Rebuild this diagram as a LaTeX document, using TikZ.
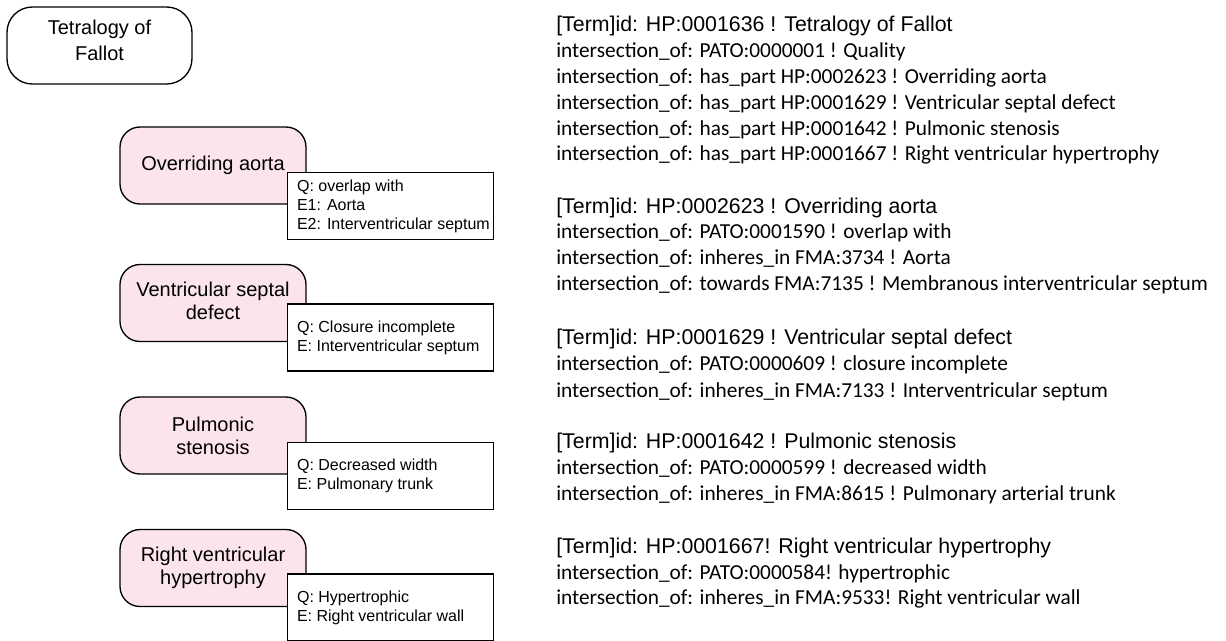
\documentclass[tikz,border=0pt]{standalone}
\usepackage{fontspec}
\setmainfont{Liberation Sans}
\newfontfamily\fejfont{Liberation Sans}
\newfontfamily\sorfont{Carlito}
\usetikzlibrary{positioning}
\definecolor{rozsa}{RGB}{252,228,236}
\tikzset{
  fo/.style={draw,rounded corners=19pt,line width=1pt,minimum width=138.75pt,
    minimum height=57.75pt,align=center,font=\fontsize{15}{19.5}\selectfont},
  resz/.style={fo,fill=rozsa,rounded corners=15pt,minimum width=139.5pt,
    font=\fontsize{15}{17.25}\selectfont},
  cimke/.style={draw,fill=white,line width=1.1pt,text width=152pt,inner xsep=1.25pt,
    minimum height=50.25pt,align=flush left,font=\fontsize{12}{14.25}\selectfont,
    execute at begin node={\leftskip=6pt}},
  fej/.style={anchor=base west,inner sep=0pt,font=\fejfont\fontsize{16}{19}\selectfont},
  sor/.style={anchor=base west,inner sep=0pt,font=\sorfont\fontsize{16}{19}\selectfont},
}
\begin{document}
\begin{tikzpicture}[x=0.75pt,y=-0.75pt]
  \useasboundingbox (0,0) rectangle (1226,640);
  % left: the term and its parts
  \node[fo,text depth=7.5pt] (tof) at (99.5,45.5) {Tetralogy of\\ Fallot};
  \node[resz] (oa) at (213,165.5) {Overriding aorta};
  \node[resz,text depth=3pt] (vsd) at (213,303) {Ventricular septal\\ defect};
  \node[resz] (ps) at (213,435.5) {Pulmonic\\ stenosis};
  \node[resz] (rvh) at (213,568) {Right ventricular\\ hypertrophy};
  \node[cimke,below right=-24.75pt and -15pt of oa] (oaq)
    {Q: overlap with\\ E1: Aorta\\ E2: Interventricular septum};
  \node[cimke,below right=-29.25pt and -15pt of vsd] (vsdq)
    {Q: Closure incomplete\\ E: Interventricular septum};
  \node[cimke,below right=-24.75pt and -15pt of ps] (psq)
    {Q: Decreased width\\ E: Pulmonary trunk};
  \node[cimke,below right=-25.5pt and -15pt of rvh] (rvhq)
    {Q: Hypertrophic\\ E: Right ventricular wall};
  % right: the ontology entries
  \node[fej] (h1) at (556,31) {[Term]id: HP:0001636 ! Tetralogy of Fallot};
  \node[sor] (h1a) at (556,57) {intersection\_of: PATO:0000001 ! Quality};
  \node[sor] (h1b) at (556,83) {intersection\_of: has\_part HP:0002623 ! Overriding aorta};
  \node[sor] (h1c) at (556,109) {intersection\_of: has\_part HP:0001629 ! Ventricular septal defect};
  \node[sor] (h1d) at (556,135) {intersection\_of: has\_part HP:0001642 ! Pulmonic stenosis};
  \node[sor] (h1e) at (556,160) {intersection\_of: has\_part HP:0001667 ! Right ventricular hypertrophy};
  \node[fej] (h2) at (556,213) {[Term]id: HP:0002623 ! Overriding aorta};
  \node[sor] (h2a) at (556,238) {intersection\_of: PATO:0001590 ! overlap with};
  \node[sor] (h2b) at (556,264) {intersection\_of: inheres\_in FMA:3734 ! Aorta};
  \node[sor] (h2c) at (556,290) {intersection\_of: towards FMA:7135 ! Membranous interventricular septum};
  \node[fej] (h3) at (556,344) {[Term]id: HP:0001629 ! Ventricular septal defect};
  \node[sor] (h3a) at (556,370) {intersection\_of: PATO:0000609 ! closure incomplete};
  \node[sor] (h3b) at (556,397) {intersection\_of: inheres\_in FMA:7133 ! Interventricular septum};
  \node[fej] (h4) at (556,448) {[Term]id: HP:0001642 ! Pulmonic stenosis};
  \node[sor] (h4a) at (556,474) {intersection\_of: PATO:0000599 ! decreased width};
  \node[sor] (h4b) at (556,500) {intersection\_of: inheres\_in FMA:8615 ! Pulmonary arterial trunk};
  \node[fej] (h5) at (556,553) {[Term]id: HP:0001667! Right ventricular hypertrophy};
  \node[sor] (h5a) at (556,579) {intersection\_of: PATO:0000584! hypertrophic};
  \node[sor] (h5b) at (556,604) {intersection\_of: inheres\_in FMA:9533! Right ventricular wall};
\end{tikzpicture}
\end{document}
